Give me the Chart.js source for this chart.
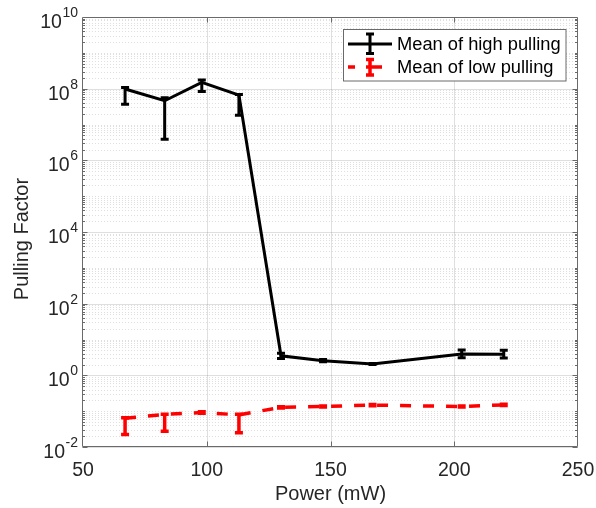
<!DOCTYPE html>
<html>
<head>
<meta charset="utf-8">
<title>Pulling Factor vs Power</title>
<script src="https://cdn.jsdelivr.net/npm/chart.js@4.4.0/dist/chart.umd.min.js"></script>
<style>
  html, body { margin: 0; padding: 0; background: #fff; }
  canvas { display: block; }
</style>
</head>
<body>
<canvas id="chart" width="596" height="508"></canvas>
<script>
// Values
const power = [67, 83, 98, 113, 130, 147, 167, 203, 220];

const highMean = [9.8e7, 4.6e7, 1.5e8, 6.6e7, 3.5, 2.56, 2.07, 3.93, 3.85];
const highLow  = [3.7e7, 3.9e6, 8.3e7, 1.8e7, 2.95, 2.4, 2.0, 3.1, 3.05];
const highHigh = [1.07e8, 5.6e7, 1.74e8, 6.9e7, 4.15, 2.75, 2.15, 5.08, 5.0];

const lowMean = [0.063, 0.081, 0.092, 0.079, 0.128, 0.135, 0.148, 0.135, 0.150];
const lowLow  = [0.0225, 0.0274, 0.088, 0.025, 0.123, 0.13, 0.142, 0.13, 0.144];
const lowHigh = [0.065, 0.0815, 0.096, 0.0815, 0.133, 0.14, 0.154, 0.14, 0.156];

const xTicks = [50, 100, 150, 200, 250];
const yExponents = [-2, 0, 2, 4, 6, 8, 10];
const seriesNames = ['Mean of high pulling', 'Mean of low pulling'];
const yTitle = 'Pulling Factor';

const FONT = "'Liberation Sans', Arial, Helvetica, sans-serif";
const AXIS = '#262626';

Chart.defaults.font.family = FONT;

// ---------------------------------------------------------------------------
// grid, error bars, y labels with superscripts, legend
// ---------------------------------------------------------------------------
function drawGrid(chart) {
  const { ctx, chartArea: a, scales: { x, y } } = chart;
  ctx.save();
  ctx.lineWidth = 1;

  // minor horizontal grid (dotted)
  ctx.setLineDash([1, 2]);
  ctx.strokeStyle = 'rgba(38,38,38,0.15)';
  ctx.beginPath();
  for (let e = -2; e < 10; e++) {
    for (let m = 1; m <= 9; m++) {
      if (m === 1 && yExponents.includes(e)) continue;
      const py = Math.round(y.getPixelForValue(m * Math.pow(10, e))) + 0.5;
      ctx.moveTo(a.left, py);
      ctx.lineTo(a.right, py);
    }
  }
  ctx.stroke();

  // major grid (solid)
  ctx.setLineDash([]);
  ctx.strokeStyle = 'rgba(38,38,38,0.15)';
  ctx.beginPath();
  yExponents.forEach(e => {
    const py = Math.round(y.getPixelForValue(Math.pow(10, e))) + 0.5;
    ctx.moveTo(a.left, py);
    ctx.lineTo(a.right, py);
  });
  xTicks.slice(1, -1).forEach(v => {
    const px = Math.round(x.getPixelForValue(v)) + 0.5;
    ctx.moveTo(px, a.top);
    ctx.lineTo(px, a.bottom);
  });
  ctx.stroke();
  ctx.restore();
}

function drawAxes(chart) {
  const { ctx, chartArea: a, scales: { x, y } } = chart;
  const L = Math.round(a.left) - 0.5, R = Math.round(a.right) - 0.5;
  const T = Math.round(a.top) + 0.5, B = Math.round(a.bottom) - 0.5;
  ctx.save();
  ctx.strokeStyle = '#6a6a6a';
  ctx.lineWidth = 1;
  ctx.beginPath();
  ctx.rect(L, T, R - L, B - T);

  // inward ticks
  xTicks.slice(1, -1).forEach(v => {
    const px = Math.round(x.getPixelForValue(v)) + 0.5;
    ctx.moveTo(px, B); ctx.lineTo(px, B - 5);
    ctx.moveTo(px, T); ctx.lineTo(px, T + 5);
  });
  for (let e = -2; e < 10; e++) {
    for (let m = 1; m <= 9; m++) {
      const len = (m === 1 && yExponents.includes(e)) ? 5 : 2.5;
      const py = Math.round(y.getPixelForValue(m * Math.pow(10, e))) + 0.5;
      ctx.moveTo(L, py); ctx.lineTo(L + len, py);
      ctx.moveTo(R, py); ctx.lineTo(R - len, py);
    }
  }
  ctx.stroke();
  ctx.restore();
}

function drawYLabels(chart) {
  const { ctx, chartArea: a, scales: { y } } = chart;
  const right = a.left - 5;
  ctx.save();
  ctx.fillStyle = AXIS;
  ctx.textBaseline = 'alphabetic';
  ctx.textAlign = 'right';
  yExponents.forEach(e => {
    const py = y.getPixelForValue(Math.pow(10, e));
    const sup = String(e);
    ctx.font = '14px ' + FONT;
    const supW = ctx.measureText(sup).width;
    ctx.fillText(sup, right, py);
    ctx.font = '19.5px ' + FONT;
    ctx.fillText('10', right - supW - 0.5, py + 11);
  });

  // axis title
  ctx.translate(22, 239);
  ctx.rotate(-Math.PI / 2);
  ctx.font = '20px ' + FONT;
  ctx.textAlign = 'center';
  ctx.textBaseline = 'middle';
  ctx.fillText(yTitle, 0, 0);
  ctx.restore();
}

function drawErrorBars(ctx, xs, ys, lo, hi, color, width) {
  ctx.save();
  ctx.strokeStyle = color;
  ctx.lineWidth = width;
  ctx.setLineDash([]);
  ctx.beginPath();
  power.forEach((p, i) => {
    const px = xs.getPixelForValue(p);
    const y1 = ys.getPixelForValue(lo[i]);
    const y2 = ys.getPixelForValue(hi[i]);
    ctx.moveTo(px, y1); ctx.lineTo(px, y2);
    ctx.moveTo(px - 4, y1); ctx.lineTo(px + 4, y1);
    ctx.moveTo(px - 4, y2); ctx.lineTo(px + 4, y2);
  });
  ctx.stroke();
  ctx.restore();
}

function drawLegend(ctx) {
  const box = { x: 343.5, y: 29.5, w: 222.5, h: 51.5 };
  const rows = [
    { y: 44, color: '#000000', width: 3, dash: [], barTop: 34, barBot: 53.5 },
    { y: 67, color: '#ff0000', width: 3.5, dash: [7, 11, 16, 20], barTop: 59.5, barBot: 75 }
  ];
  ctx.save();
  ctx.fillStyle = '#ffffff';
  ctx.fillRect(box.x, box.y, box.w, box.h);
  ctx.strokeStyle = '#6a6a6a';
  ctx.lineWidth = 1;
  ctx.strokeRect(box.x, box.y, box.w, box.h);

  rows.forEach((r, i) => {
    ctx.strokeStyle = r.color;
    ctx.lineWidth = r.width;
    ctx.setLineDash(r.dash);
    ctx.beginPath();
    ctx.moveTo(348, r.y); ctx.lineTo(392, r.y);
    ctx.stroke();
    ctx.setLineDash([]);
    ctx.beginPath();
    ctx.moveTo(370, r.barTop); ctx.lineTo(370, r.barBot);
    ctx.moveTo(366, r.barTop); ctx.lineTo(374, r.barTop);
    ctx.moveTo(366, r.barBot); ctx.lineTo(374, r.barBot);
    ctx.stroke();

    ctx.fillStyle = '#000000';
    ctx.font = '18.3px ' + FONT;
    ctx.textAlign = 'left';
    ctx.textBaseline = 'middle';
    ctx.fillText(seriesNames[i], 397, r.y + 0.5);
  });
  ctx.restore();
}

const figurePlugin = {
  id: 'figure',
  beforeDatasetsDraw(chart) {
    drawGrid(chart);
    drawAxes(chart);
  },
  afterDatasetsDraw(chart) {
    const { ctx, scales: { x, y } } = chart;
    drawErrorBars(ctx, x, y, highLow, highHigh, '#000000', 3);
    drawErrorBars(ctx, x, y, lowLow, lowHigh, '#ff0000', 3.5);
    drawYLabels(chart);
    drawLegend(ctx);
  }
};

new Chart(document.getElementById('chart'), {
  type: 'line',
  data: {
    datasets: [
      {
        label: seriesNames[0],
        data: power.map((p, i) => ({ x: p, y: highMean[i] })),
        borderColor: '#000000',
        borderWidth: 3,
        pointRadius: 0,
        tension: 0,
        fill: false
      },
      {
        label: seriesNames[1],
        data: power.map((p, i) => ({ x: p, y: lowMean[i] })),
        borderColor: '#ff0000',
        borderWidth: 3.5,
        borderDash: [11, 12],
        pointRadius: 0,
        tension: 0,
        fill: false
      }
    ]
  },
  options: {
    responsive: false,
    animation: false,
    devicePixelRatio: 1,
    layout: { padding: { top: 17, right: 18, left: 0, bottom: 0 } },
    plugins: {
      legend: { display: false },
      tooltip: { enabled: false }
    },
    scales: {
      x: {
        type: 'linear',
        min: 50,
        max: 250,
        afterBuildTicks: s => { s.ticks = xTicks.map(v => ({ value: v })); },
        afterFit: s => { s.height = 61; s.paddingLeft = 0; s.paddingRight = 0; },
        ticks: { color: AXIS, font: { size: 19.5 }, padding: 4, maxRotation: 0, autoSkip: false },
        grid: { display: false },
        border: { display: false },
        title: {
          display: true,
          text: 'Power (mW)',
          color: AXIS,
          font: { size: 20 },
          padding: { top: 0, bottom: 2 }
        }
      },
      y: {
        type: 'logarithmic',
        min: 1e-2,
        max: 1e10,
        afterFit: s => { s.width = 83; },
        ticks: { display: false },
        grid: { display: false },
        border: { display: false },
        title: { display: false }
      }
    }
  },
  plugins: [figurePlugin]
});
</script>
</body>
</html>
